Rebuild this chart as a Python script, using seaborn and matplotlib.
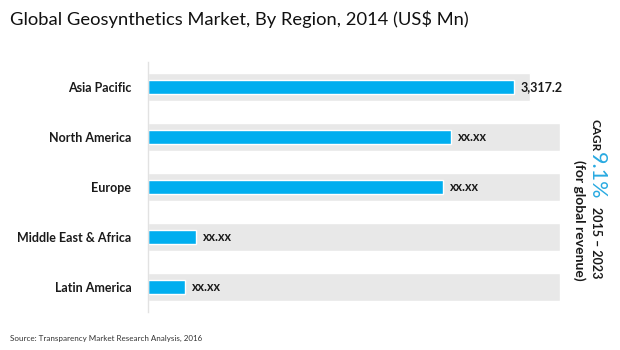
import matplotlib
matplotlib.use('Agg')
import matplotlib.pyplot as plt
import pandas as pd
import seaborn as sns

# values (only Asia Pacific is printed)
regions = ['Asia Pacific', 'North America', 'Europe', 'Middle East & Africa', 'Latin America']
revenue = [3317.2, 2747, 2675, 435, 335]
value_labels = ['3,317.2', 'xx.xx', 'xx.xx', 'xx.xx', 'xx.xx']
track = [3460, 3735, 3735, 3735, 3735]  # grey background bands

df = pd.DataFrame({'region': regions, 'revenue': revenue, 'track': track})

sns.set_style('white')
plt.rcParams['font.family'] = ['Lato', 'DejaVu Sans']

fig = plt.figure(figsize=(6.2, 3.5), dpi=100)
ax = fig.add_axes([148 / 620, 1 - 312 / 350, (560 - 148) / 620, (312 - 62) / 350])

sns.barplot(data=df, x='track', y='region', color='#e8e8e8', width=0.55,
            saturation=1, ax=ax)
sns.barplot(data=df, x='revenue', y='region', color='#00aeef', width=0.29,
            saturation=1, ax=ax)

for i, (v, lab) in enumerate(zip(revenue, value_labels)):
    ax.text(v + 63, i, lab, va='center', ha='left', fontsize=9,
            fontweight='bold', color='#1a1a1a')

ax.set_xlim(0, 3735)
ax.set_ylim(4.5, -0.5)
ax.set_xlabel('')
ax.set_ylabel('')
ax.set_xticks([])
ax.tick_params(axis='y', length=0, pad=12, labelsize=9)
for t in ax.get_yticklabels():
    t.set_fontweight('bold')
    t.set_color('#1a1a1a')
for s in ['top', 'right', 'bottom']:
    ax.spines[s].set_visible(False)
ax.spines['left'].set_color('#e2e2e2')
ax.spines['left'].set_linewidth(1)

fig.text(10 / 620, 1 - 19 / 350, 'Global Geosynthetics Market, By Region, 2014 (US$ Mn)',
         fontsize=13.2, ha='left', va='center', color='#111111')
fig.text(10 / 620, 1 - 338 / 350, 'Source: Transparency Market Research Analysis, 2016',
         fontsize=5.8, ha='left', va='center', color='#333333')

# rotated CAGR callout (reads top to bottom)
fig.text(590 / 620, 1 - 135 / 350, 'CAGR', rotation=270, ha='left', va='center',
         fontsize=8.5, fontweight='bold', color='#1a1a1a')
fig.text(587 / 620, 1 - 176 / 350, '9.1%', rotation=270, ha='left', va='center',
         fontsize=15.5, color='#29aae1')
fig.text(590 / 620, 1 - 243 / 350, '2015 \u2013 2023', rotation=270, ha='left', va='center',
         fontsize=9, fontweight='bold', color='#1a1a1a')
fig.text(573 / 620, 1 - 220 / 350, '(for global revenue)', rotation=270, ha='left',
         va='center', fontsize=10, fontweight='bold', color='#1a1a1a')

fig.savefig('out.png', dpi=100)
